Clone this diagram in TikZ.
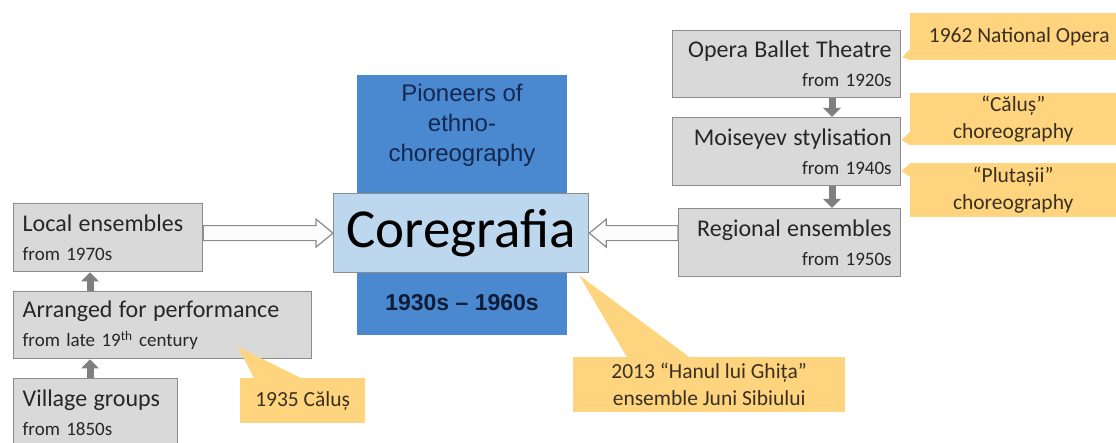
\documentclass[tikz,border=0pt]{standalone}
\usepackage{fontspec}
\setmainfont{Carlito}
\newfontfamily\arialf{Liberation Sans}
\usetikzlibrary{calc,arrows.meta}
\definecolor{boxgray}{HTML}{D9D9D9}
\definecolor{boxedge}{HTML}{8C8C8C}
\definecolor{arrgray}{HTML}{7F7F7F}
\definecolor{pionblue}{HTML}{4A89D0}
\definecolor{coreblue}{HTML}{BDD7EE}
\definecolor{navy}{HTML}{142850}
\definecolor{callorange}{HTML}{FFD47F}
\definecolor{calltext}{HTML}{3A3020}
\newcommand\fbig{\fontsize{24}{29}\selectfont}
\newcommand\fsub{\fontsize{19}{29}\selectfont}
\begin{document}
\begin{tikzpicture}[x=1pt,y=-1pt,
  graybox/.style={draw=boxedge, fill=boxgray, line width=1.3pt, inner xsep=9pt, inner ysep=0pt, anchor=north west, font=\fsub, text=black!85},
  lbox/.style={graybox, align=left},
  rbox/.style={graybox, align=right},
  callbox/.style={fill=callorange, inner sep=0pt, anchor=north west, align=center, text=calltext, font=\fontsize{21.5}{27}\selectfont},
  uparr/.style={draw=arrgray, line width=7pt, -{Triangle[width=17pt,length=9pt]}, arrgray},
  hollow/.style={draw=boxedge, fill=white!92!boxgray, line width=1.2pt, line join=miter}
]
\useasboundingbox (0,0) rectangle (1116,443);

% left column
\node[lbox, minimum width=189pt, text width=171pt, minimum height=68pt] (loc) at (13,203)
  {{\fbig Local ensembles}\\from 1970s};
\node[lbox, minimum width=298pt, text width=280pt, minimum height=67pt] (arr) at (13,291)
  {{\fbig Arranged for performance}\\from late 19\textsuperscript{th} century};
\node[lbox, minimum width=164pt, text width=146pt, minimum height=68pt] (vil) at (13,378)
  {{\fbig Village groups}\\from 1850s};

\coordinate (c1) at ($(arr.north west)+(77,0)$);
\coordinate (c2) at ($(vil.north west)+(77,0)$);
\draw[uparr] (c2) -- (c2 |- arr.south);
\draw[uparr] (c1) -- (c1 |- loc.south);

% centre
\node[fill=pionblue, minimum width=210pt, minimum height=260pt, inner sep=0pt, anchor=north west] (pion) at (357,75) {};
\node[text=navy, font=\arialf\fontsize{24}{30}\selectfont, align=center, inner sep=0pt] (ptext) at (462,125)
  {Pioneers of\\ethno-\\choreography};
\node[font=\arialf\bfseries\fontsize{23}{28}\selectfont, text=navy!70!black, inner sep=0pt] (years) at (462,303) {1930s – 1960s};
\node[draw=boxedge, fill=coreblue, line width=1.3pt, minimum width=255pt, minimum height=79pt, inner sep=0pt, anchor=north west,
  font=\fontsize{55}{60}\selectfont] (core) at (333,193) {Coregrafia};

% right column
\node[rbox, minimum width=228pt, text width=210pt, minimum height=67pt] (ope) at (672,30)
  {{\fbig Opera Ballet Theatre}\\from 1920s};
\node[rbox, minimum width=228pt, text width=210pt, minimum height=68pt] (moi) at (672,117)
  {{\fbig Moiseyev stylisation}\\from 1940s};
\node[rbox, minimum width=222pt, text width=204pt, minimum height=68pt] (reg) at (678,208)
  {{\fbig Regional ensembles}\\from 1950s};

\coordinate (d1) at ($(ope.south west)+(160,0)$);
\coordinate (d2) at ($(moi.south west)+(160,0)$);
\draw[uparr] (d1) -- (d1 |- moi.north);
\draw[uparr] (d2) -- (d2 |- reg.north);

% hollow arrows
\coordinate (la) at (loc.east |- core.west);
\coordinate (ra) at (reg.west |- core.east);
\draw[hollow] ($(la)+(0,-7.5)$) -- ($(core.west)+(-17,-7.5)$) -- ($(core.west)+(-17,-14)$)
  -- (core.west) -- ($(core.west)+(-17,14)$) -- ($(core.west)+(-17,7.5)$) -- ($(la)+(0,7.5)$) -- cycle;
\draw[hollow] ($(ra)+(0,-7.5)$) -- ($(core.east)+(17,-7.5)$) -- ($(core.east)+(17,-14)$)
  -- (core.east) -- ($(core.east)+(17,14)$) -- ($(core.east)+(17,7.5)$) -- ($(ra)+(0,7.5)$) -- cycle;

% callouts
\node[callbox, minimum width=125pt, minimum height=45pt] (k1935) at (240,378) {1935 Căluș};
\fill[callorange] ($(k1935.north west)+(14,0.5)$) -- (238,347) -- ($(k1935.north west)+(62,0.5)$) -- cycle;

\node[callbox, minimum width=272pt, minimum height=55pt] (k2013) at (573,357) {2013 “Hanul lui Ghița”\\ensemble Juni Sibiului};
\fill[callorange] ($(k2013.north west)+(54,0.5)$) -- ($(core.south east)+(-10,2)$) -- ($(k2013.north west)+(117,0.5)$) -- cycle;

\node[callbox, minimum width=206pt, minimum height=47pt] (k1962) at (910,13) {\hspace*{12pt}1962 National Opera};
\fill[callorange] ($(k1962.south west)+(0.5,-12)$) -- ($(ope.north east)+(1,27)$) -- ($(k1962.south west)+(0.5,0)$) -- cycle;

\node[callbox, minimum width=206pt, minimum height=52pt] (kcal) at (910,93) {“Căluș”\\choreography};
\fill[callorange] ($(kcal.south west)+(0.5,-14)$) -- ($(moi.north east)+(0,23)$) -- ($(kcal.south west)+(0.5,0)$) -- cycle;

\node[callbox, minimum width=206pt, minimum height=54pt] (kplu) at (910,163) {“Plutașii”\\choreography};
\fill[callorange] ($(kplu.north west)+(0.5,0)$) -- ($(moi.south east)+(0,-15)$) -- ($(kplu.north west)+(0.5,14)$) -- cycle;
\end{tikzpicture}
\end{document}
